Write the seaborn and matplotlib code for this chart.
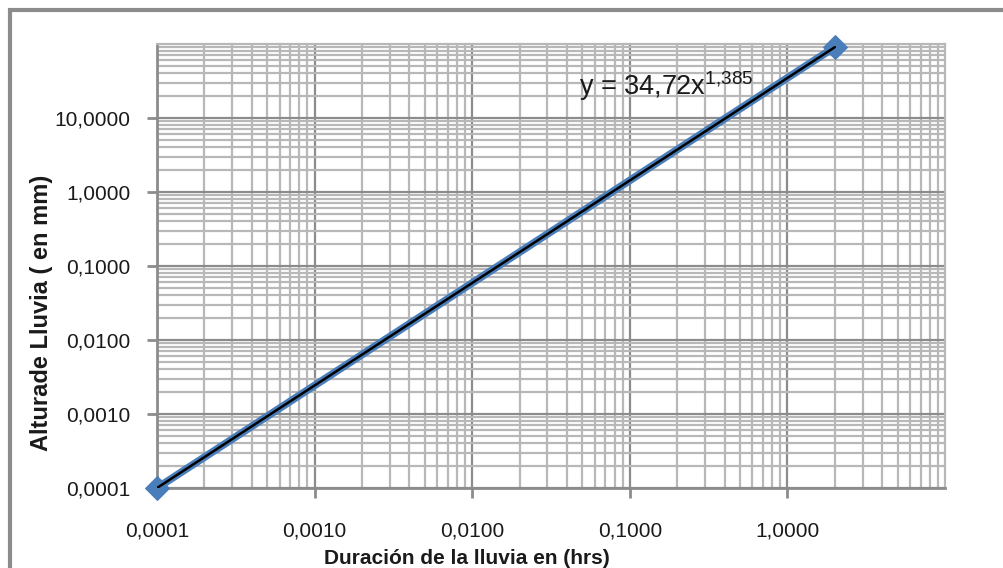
import numpy as np
import pandas as pd
import matplotlib
matplotlib.use('Agg')
import matplotlib.pyplot as plt
import matplotlib.ticker as mticker
from matplotlib.patches import Rectangle
import seaborn as sns

# data
duracion = [0.0001, 2.0]
altura = [0.0001, 91.0]
coef_a = 34.72
coef_b = 1.385
x_ticks = [0.0001, 0.001, 0.01, 0.1, 1.0]
y_ticks = [0.0001, 0.001, 0.01, 0.1, 1.0, 10.0]

sns.set_theme(style='white')
plt.rcParams['font.family'] = ['Liberation Sans', 'DejaVu Sans']
plt.rcParams['mathtext.fontset'] = 'custom'
plt.rcParams['mathtext.rm'] = 'Liberation Sans'

df = pd.DataFrame({'x': duracion, 'y': altura})

fig = plt.figure(figsize=(10.04, 5.68), dpi=100)
ax = fig.add_axes([157 / 1004, 1 - 488 / 568, 788 / 1004, 444 / 568])

# outer chart frame (excel style)
fig.patches.append(Rectangle((10 / 1004, -0.05), 1.2, 1 - 10 / 568 + 0.05,
                             transform=fig.transFigure, fill=False,
                             edgecolor='#8c8c8c', linewidth=3, zorder=0))

ax.set_xscale('log')
ax.set_yscale('log')
ax.set_xlim(1e-4, 10)
ax.set_ylim(1e-4, 100)

ax.grid(which='minor', color='#b8b8b8', linewidth=1.6)
ax.grid(which='major', color='#8c8c8c', linewidth=1.6)
ax.xaxis.set_minor_locator(mticker.LogLocator(base=10, subs=np.arange(2, 10)))
ax.yaxis.set_minor_locator(mticker.LogLocator(base=10, subs=np.arange(2, 10)))
ax.set_axisbelow(True)

sns.lineplot(data=df, x='x', y='y', color='#4a7ebb', linewidth=5.5,
             marker='D', markersize=12, markeredgecolor='#4a7ebb', ax=ax,
             clip_on=False, zorder=4)

# power trendline
xt = np.logspace(np.log10(duracion[0]), np.log10(duracion[-1]), 50)
ax.plot(xt, coef_a * xt ** coef_b, color='black', linewidth=1.8, zorder=5)

ax.set_xticks(x_ticks)
ax.set_yticks(y_ticks)
ax.set_xticklabels([f'{v:.4f}'.replace('.', ',') for v in x_ticks])
ax.set_yticklabels([f'{v:.4f}'.replace('.', ',') for v in y_ticks])
ax.tick_params(which='major', direction='out', length=7, width=2, color='#8c8c8c',
               labelsize=15, labelcolor='#1a1a1a', pad=12, left=True, bottom=True)
ax.tick_params(which='minor', length=0)
ax.tick_params(axis='x', pad=17)

for side in ['left', 'bottom']:
    ax.spines[side].set_color('#8c8c8c')
    ax.spines[side].set_linewidth(2)
for side in ['top', 'right']:
    ax.spines[side].set_color('#b8b8b8')
    ax.spines[side].set_linewidth(1.6)

ax.set_xlabel('')
ax.set_ylabel('')
fig.text(467 / 1004, 1 - 558 / 568, 'Duración de la lluvia en (hrs)', fontsize=15,
         fontweight='bold', color='#1a1a1a', ha='center', va='center')
fig.text(42 / 1004, 1 - 313 / 568, 'Alturade Lluvia ( en mm)', fontsize=17,
         fontweight='bold', color='#1a1a1a', ha='center', va='center', rotation=90)

ax.text(0.536, 0.905, r'y = 34,72x$^{\mathregular{1{,}385}}$', transform=ax.transAxes,
        fontsize=19.5, color='#1a1a1a', va='center', ha='left')

fig.savefig('out.png', dpi=100)
